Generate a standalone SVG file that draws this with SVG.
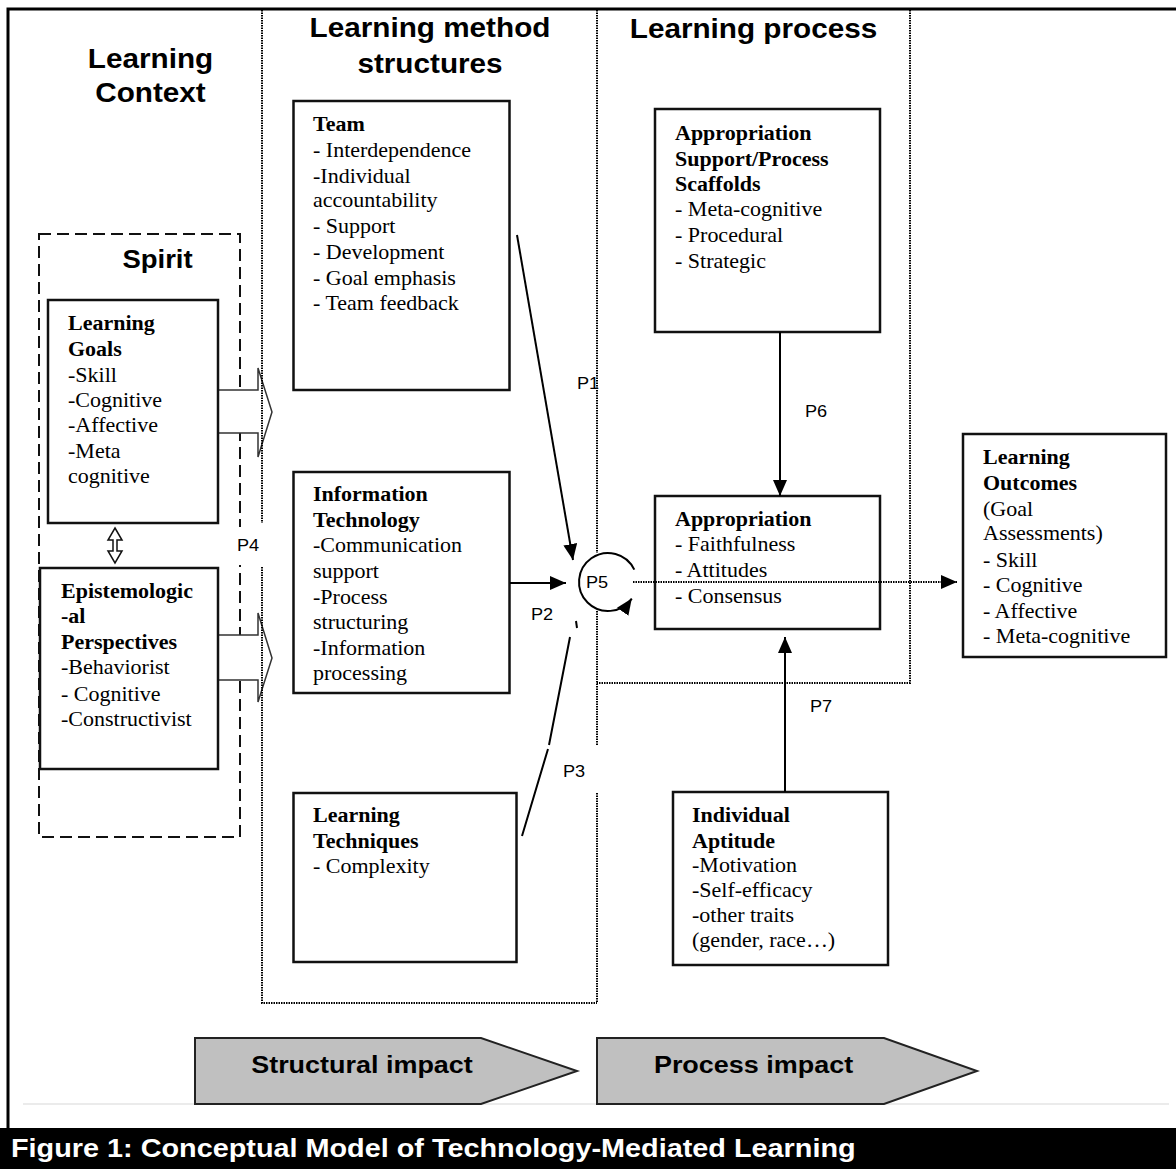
<svg xmlns="http://www.w3.org/2000/svg" width="1176" height="1169" viewBox="0 0 1176 1169">
<style>
.h{font-family:"Liberation Sans",Arial,sans-serif;font-weight:bold;font-size:27px;fill:#000;text-anchor:middle}
.t{font-family:"Liberation Serif","Times New Roman",serif;font-size:20px;fill:#000}
.b{font-weight:bold}
.p{font-family:"Liberation Sans",Arial,sans-serif;font-size:16.5px;fill:#000}
.box{fill:none;stroke:#111;stroke-width:2.5}
.dot{fill:none;stroke:#000;stroke-width:2;stroke-dasharray:1.5 1}
.con{fill:none;stroke:#000;stroke-width:2}
.blk{fill:#fff;stroke:#333;stroke-width:1.5}
.chev{fill:#c0c0c0;stroke:#222;stroke-width:2}
.ch{font-family:"Liberation Sans",Arial,sans-serif;font-weight:bold;font-size:24.5px;fill:#000;text-anchor:middle}
</style>
<defs>
<marker id="ah" markerUnits="userSpaceOnUse" markerWidth="16" markerHeight="14" refX="16" refY="7" orient="auto" viewBox="0 0 16 14"><path d="M0,0 L16,7 L0,14 z" fill="#000"/></marker>
</defs>
<rect width="1176" height="1169" fill="#fff"/>
<!-- frame -->
<g id="frame">
<path d="M8,1128 V9 H1176" fill="none" stroke="#000" stroke-width="3"/>
<line x1="23" y1="1104" x2="1169" y2="1104" stroke="#e4e4e4" stroke-width="1.5"/>
<rect x="0" y="1128" width="1176" height="41" fill="#000"/>
<text class="h" style="fill:#fff;text-anchor:start;font-size:26.2px" transform="translate(11 0) scale(1.1 1)" x="0" y="1157">Figure 1: Conceptual Model of Technology-Mediated Learning</text>
</g>
<!-- headers -->
<g id="headers">
<text class="h" transform="translate(150.5 0) scale(1.1 1)"><tspan x="0" y="68">Learning</tspan><tspan x="0" y="102">Context</tspan></text>
<text class="h" transform="translate(430 0) scale(1.1 1)"><tspan x="0" y="37">Learning method</tspan><tspan x="0" y="73">structures</tspan></text>
<text class="h" transform="translate(753.5 0) scale(1.1 1)"><tspan x="0" y="38">Learning process</tspan></text>
</g>
<!-- spirit dashed box -->
<g id="spirit">
<rect x="39" y="234" width="201" height="603" fill="none" stroke="#111" stroke-width="2" stroke-dasharray="12 6"/>
<text class="h" style="font-size:25px" transform="translate(157.5 0) scale(1.1 1)" x="0" y="268">Spirit</text>
</g>
<!-- block arrows -->
<g id="block-arrows">
<path class="blk" d="M218,390 H258 V368 L272,412 L258,457 V433 H218"/>
<path class="blk" d="M218,635 H258 V613 L272,658 L258,702 V680 H218"/>
</g>
<!-- dotted column lines -->
<g id="columns">
<path class="dot" d="M262,10 V523 M262,567 V1003 H597 M597,10 V553 M597,611 V745 M597,793 V1003"/>
<path class="dot" d="M910,10 V683 H597"/>
</g>
<g id="learning-goals">
<rect class="box" x="48" y="300" width="170" height="223"/>
<text class="t" transform="translate(68 0) scale(1.1 1)"><tspan class="b" x="0" y="330">Learning</tspan><tspan class="b" x="0" y="356">Goals</tspan><tspan x="0" y="382">-Skill</tspan><tspan x="0" y="407">-Cognitive</tspan><tspan x="0" y="432">-Affective</tspan><tspan x="0" y="458">-Meta</tspan><tspan x="0" y="483">cognitive</tspan></text>
</g>
<g id="epistemological">
<rect class="box" x="40" y="568" width="178" height="201"/>
<text class="t" transform="translate(61 0) scale(1.1 1)"><tspan class="b" x="0" y="598">Epistemologic</tspan><tspan class="b" x="0" y="623">-al</tspan><tspan class="b" x="0" y="649">Perspectives</tspan><tspan x="0" y="674">-Behaviorist</tspan><tspan x="0" y="701">- Cognitive</tspan><tspan x="0" y="726">-Constructivist</tspan></text>
</g>
<g id="team">
<rect class="box" x="293.5" y="101" width="216" height="289"/>
<text class="t" transform="translate(313 0) scale(1.1 1)"><tspan class="b" x="0" y="131">Team</tspan><tspan x="0" y="157">- Interdependence</tspan><tspan x="0" y="183">-Individual</tspan><tspan x="0" y="207">accountability</tspan><tspan x="0" y="233">- Support</tspan><tspan x="0" y="259">- Development</tspan><tspan x="0" y="285">- Goal emphasis</tspan><tspan x="0" y="310">- Team feedback</tspan></text>
</g>
<g id="information-technology">
<rect class="box" x="293.5" y="472" width="216" height="221"/>
<text class="t" transform="translate(313 0) scale(1.1 1)"><tspan class="b" x="0" y="501">Information</tspan><tspan class="b" x="0" y="527">Technology</tspan><tspan x="0" y="552">-Communication</tspan><tspan x="0" y="578">support</tspan><tspan x="0" y="604">-Process</tspan><tspan x="0" y="629">structuring</tspan><tspan x="0" y="655">-Information</tspan><tspan x="0" y="680">processing</tspan></text>
</g>
<g id="learning-techniques">
<rect class="box" x="293.5" y="793" width="223" height="169"/>
<text class="t" transform="translate(313 0) scale(1.1 1)"><tspan class="b" x="0" y="822">Learning</tspan><tspan class="b" x="0" y="848">Techniques</tspan><tspan x="0" y="873">- Complexity</tspan></text>
</g>
<g id="appropriation-support">
<rect class="box" x="655" y="109" width="225" height="223"/>
<text class="t" transform="translate(675 0) scale(1.1 1)"><tspan class="b" x="0" y="140">Appropriation</tspan><tspan class="b" x="0" y="166">Support/Process</tspan><tspan class="b" x="0" y="191">Scaffolds</tspan><tspan x="0" y="216">- Meta-cognitive</tspan><tspan x="0" y="242">- Procedural</tspan><tspan x="0" y="268">- Strategic</tspan></text>
</g>
<g id="appropriation">
<rect class="box" x="655" y="496" width="225" height="133"/>
<text class="t" transform="translate(675 0) scale(1.1 1)"><tspan class="b" x="0" y="526">Appropriation</tspan><tspan x="0" y="551">- Faithfulness</tspan><tspan x="0" y="577">- Attitudes</tspan><tspan x="0" y="603">- Consensus</tspan></text>
</g>
<g id="individual-aptitude">
<rect class="box" x="673" y="792" width="215" height="173"/>
<text class="t" transform="translate(692 0) scale(1.1 1)"><tspan class="b" x="0" y="822">Individual</tspan><tspan class="b" x="0" y="848">Aptitude</tspan><tspan x="0" y="872">-Motivation</tspan><tspan x="0" y="897">-Self-efficacy</tspan><tspan x="0" y="922">-other traits</tspan><tspan x="0" y="947">(gender, race…)</tspan></text>
</g>
<g id="learning-outcomes">
<rect class="box" x="963" y="434" width="203" height="223"/>
<text class="t" transform="translate(983 0) scale(1.1 1)"><tspan class="b" x="0" y="464">Learning</tspan><tspan class="b" x="0" y="490">Outcomes</tspan><tspan x="0" y="516">(Goal</tspan><tspan x="0" y="540">Assessments)</tspan><tspan x="0" y="567">- Skill</tspan><tspan x="0" y="592">- Cognitive</tspan><tspan x="0" y="618">- Affective</tspan><tspan x="0" y="643">- Meta-cognitive</tspan></text>
</g>
<!-- connectors -->
<g id="connectors">
<path d="M115,528 L122,540 L117,540 L117,551 L122,551 L115,563 L108,551 L113,551 L113,540 L108,540 Z" fill="#fff" stroke="#111" stroke-width="1.5"/>
<line class="con" x1="517" y1="235" x2="573" y2="560" marker-end="url(#ah)"/>
<line class="con" x1="510" y1="583" x2="566" y2="583" marker-end="url(#ah)"/>
<path class="con" d="M522,836 L548,749 M549,745 L570,637 M576,621 L577,628"/>
<circle cx="608" cy="582" r="29" fill="#fff"/>
<path class="con" d="M634.3,569.7 A29,29 0 1 0 631.8,598.6" marker-end="url(#ah)"/>
<line class="dot" x1="633" y1="582" x2="957" y2="582" marker-end="url(#ah)"/>
<line class="con" x1="780" y1="332" x2="780" y2="496" marker-end="url(#ah)"/>
<line class="con" x1="785" y1="792" x2="785" y2="637" stroke-width="2.5" marker-end="url(#ah)"/>
</g>
<g id="labels">
<rect x="235" y="527" width="24" height="38" fill="#fff"/>
<text class="p" transform="translate(577 0) scale(1.1 1)" x="0" y="389">P1</text>
<text class="p" transform="translate(531 0) scale(1.1 1)" x="0" y="620">P2</text>
<text class="p" transform="translate(563 0) scale(1.1 1)" x="0" y="777">P3</text>
<text class="p" transform="translate(237 0) scale(1.1 1)" x="0" y="551">P4</text>
<text class="p" transform="translate(586 0) scale(1.1 1)" x="0" y="588">P5</text>
<text class="p" transform="translate(805 0) scale(1.1 1)" x="0" y="417">P6</text>
<text class="p" transform="translate(810 0) scale(1.1 1)" x="0" y="712">P7</text>
</g>
<g id="impact-bands">
<polygon class="chev" points="195,1038 481,1038 577,1071 481,1104 195,1104"/>
<text class="ch" transform="translate(362 0) scale(1.1 1)" x="0" y="1073">Structural impact</text>
<polygon class="chev" points="597,1038 884,1038 977,1071 884,1104 597,1104"/>
<text class="ch" transform="translate(753.5 0) scale(1.1 1)" x="0" y="1073">Process impact</text>
</g>
</svg>
